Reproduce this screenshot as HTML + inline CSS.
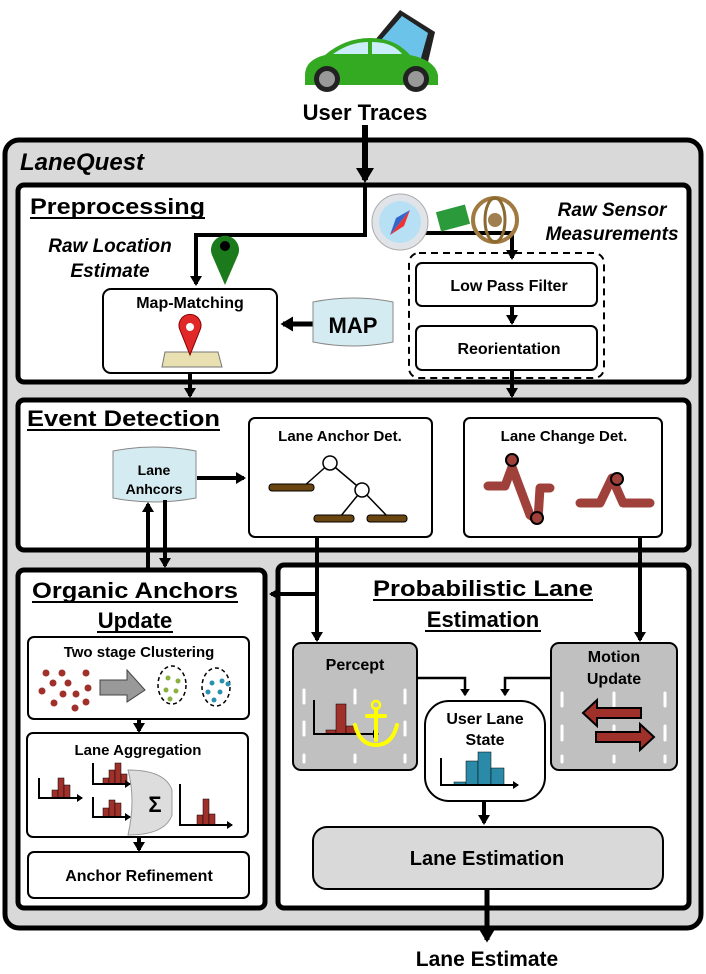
<!DOCTYPE html>
<html><head><meta charset="utf-8"><style>
html,body{margin:0;padding:0;background:#fff}
svg{display:block}
text{font-family:"Liberation Sans",sans-serif;font-weight:bold;fill:#000}
.i{font-style:italic}
</style></head><body>
<svg width="706" height="974" viewBox="0 0 706 974" xmlns="http://www.w3.org/2000/svg">
<defs>
<marker id="a" markerWidth="4" markerHeight="4" refX="2.5" refY="2" orient="auto" markerUnits="strokeWidth"><path d="M0,0 L3,2 L0,4 z" fill="#000"/></marker>
<marker id="b" markerWidth="3" markerHeight="3" refX="2" refY="1.5" orient="auto" markerUnits="strokeWidth"><path d="M0,0 L2.5,1.5 L0,3 z" fill="#000"/></marker>
</defs>
<!-- car -->
<g>
<path d="M375,40 L400,10 L435,32 L428,62 L395,65 z" fill="#222"/>
<path d="M381,40 L402,16 L428,33 L421,58 L398,60 z" fill="#6cc3ea"/>
<path d="M305,75 Q305,60 325,55 Q345,38 370,38 Q395,38 410,55 Q435,60 438,75 L438,85 L305,85 z" fill="#33aa22"/>
<path d="M333,54 Q350,42 368,42 L368,54 z M372,42 Q392,42 402,54 L372,54 z" fill="#c9eefa"/>
<circle cx="327" cy="79" r="13" fill="#222"/><circle cx="327" cy="79" r="8" fill="#999"/>
<circle cx="416" cy="79" r="13" fill="#222"/><circle cx="416" cy="79" r="8" fill="#999"/>
</g>
<text x="365" y="120" font-size="22" text-anchor="middle">User Traces</text>
<!-- outer -->
<rect x="5" y="140" width="696" height="788" rx="14" fill="#d9d9d9" stroke="#000" stroke-width="5"/>
<text x="20" y="170" font-size="24" class="i">LaneQuest</text>
<line x1="365" y1="125" x2="365" y2="180" stroke="#000" stroke-width="6" marker-end="url(#b)"/>
<!-- Preprocessing -->
<rect x="18" y="185" width="671" height="197" rx="6" fill="#fff" stroke="#000" stroke-width="5"/>
<text x="30" y="214" font-size="22" textLength="175" lengthAdjust="spacingAndGlyphs">Preprocessing</text>
<line x1="30" y1="218" x2="205" y2="218" stroke="#000" stroke-width="2"/>
<polyline points="365,183 365,235 196,235 196,284" fill="none" stroke="#000" stroke-width="4" marker-end="url(#b)"/>
<path d="M225,285 L212,255 A14,14 0 1 1 238,255 z" fill="#1b7a1b"/>
<circle cx="225" cy="246" r="5" fill="#000"/>
<text x="110" y="252" font-size="19" text-anchor="middle" class="i">Raw Location</text>
<text x="110" y="277" font-size="19" text-anchor="middle" class="i">Estimate</text>
<rect x="103" y="289" width="174" height="84" rx="8" fill="#fff" stroke="#000" stroke-width="2"/>
<text x="190" y="308" font-size="16" text-anchor="middle">Map-Matching</text>
<path d="M165,352 L218,352 L222,367 L162,367 z" fill="#e8e0b0" stroke="#777"/>
<path d="M190,355 L180,330 A11,11 0 1 1 200,330 z" fill="#e02828" stroke="#800" />
<circle cx="190" cy="327" r="4" fill="#fff"/>
<line x1="314" y1="324" x2="283" y2="324" stroke="#000" stroke-width="5" marker-end="url(#b)"/>
<path d="M313,302 Q353,294 393,302 L393,342 Q353,350 313,342 z" fill="#d4ebf2" stroke="#888"/>
<text x="353" y="333" font-size="22" text-anchor="middle">MAP</text>
<!-- sensors -->
<polyline points="420,233 512,233 512,258" fill="none" stroke="#000" stroke-width="4" marker-end="url(#b)"/>
<circle cx="400" cy="222" r="28" fill="#e0e4e8" stroke="#aaa"/>
<circle cx="400" cy="222" r="21" fill="#b8e0f5"/>
<path d="M390,235 L410,210 L404,226 z" fill="#e33"/><path d="M390,235 L396,218 L410,210 z" fill="#36c"/>
<rect x="438" y="208" width="30" height="20" fill="#2a9a3a" transform="rotate(-15 453 218)"/>
<circle cx="495" cy="220" r="22" fill="none" stroke="#a07a40" stroke-width="4"/>
<ellipse cx="495" cy="220" rx="10" ry="22" fill="none" stroke="#8a6a30" stroke-width="3"/>
<circle cx="495" cy="220" r="7" fill="#a08050"/>
<text x="612" y="216" font-size="19" text-anchor="middle" class="i">Raw Sensor</text>
<text x="612" y="240" font-size="19" text-anchor="middle" class="i">Measurements</text>
<rect x="409" y="253" width="195" height="125" rx="10" fill="none" stroke="#000" stroke-width="2" stroke-dasharray="7,5"/>
<rect x="416" y="263" width="181" height="43" rx="6" fill="#fff" stroke="#000" stroke-width="2"/>
<text x="509" y="291" font-size="16" text-anchor="middle">Low Pass Filter</text>
<line x1="512" y1="306" x2="512" y2="323" stroke="#000" stroke-width="4" marker-end="url(#b)"/>
<rect x="416" y="326" width="181" height="44" rx="6" fill="#fff" stroke="#000" stroke-width="2"/>
<text x="509" y="354" font-size="16" text-anchor="middle">Reorientation</text>
<line x1="190" y1="373" x2="190" y2="396" stroke="#000" stroke-width="4" marker-end="url(#b)"/>
<line x1="512" y1="370" x2="512" y2="396" stroke="#000" stroke-width="4" marker-end="url(#b)"/>
<!-- Event detection -->
<rect x="18" y="400" width="671" height="150" rx="6" fill="#fff" stroke="#000" stroke-width="5"/>
<text x="27" y="426" font-size="22" textLength="193" lengthAdjust="spacingAndGlyphs">Event Detection</text>
<line x1="27" y1="430" x2="220" y2="430" stroke="#000" stroke-width="2"/>
<path d="M113,451 Q154,443 196,451 L196,498 Q154,506 113,498 z" fill="#d4ebf2" stroke="#888"/>
<text x="154" y="475" font-size="14" text-anchor="middle">Lane</text>
<text x="154" y="494" font-size="14" text-anchor="middle">Anhcors</text>
<line x1="197" y1="478" x2="244" y2="478" stroke="#000" stroke-width="4" marker-end="url(#b)"/>
<rect x="249" y="418" width="183" height="119" rx="6" fill="#fff" stroke="#000" stroke-width="2"/>
<text x="340" y="441" font-size="15" text-anchor="middle">Lane Anchor Det.</text>
<g stroke="#000" stroke-width="1.5"><line x1="330" y1="463" x2="303" y2="487"/><line x1="330" y1="463" x2="362" y2="490"/><line x1="362" y1="490" x2="340" y2="517"/><line x1="362" y1="490" x2="388" y2="517"/></g>
<circle cx="330" cy="463" r="7" fill="#fff" stroke="#000" stroke-width="1.5"/>
<circle cx="362" cy="490" r="7" fill="#fff" stroke="#000" stroke-width="1.5"/>
<g stroke="#000" stroke-width="1" fill="#6b4510"><rect x="269" y="484" width="45" height="7" rx="3"/><rect x="314" y="515" width="40" height="7" rx="3"/><rect x="367" y="515" width="40" height="7" rx="3"/></g>
<rect x="464" y="418" width="198" height="119" rx="6" fill="#fff" stroke="#000" stroke-width="2"/>
<text x="564" y="441" font-size="15" text-anchor="middle">Lane Change Det.</text>
<path d="M488,486 L505,486 L512,467 L530,515 L538,520 L540,488 L550,488" fill="none" stroke="#a0403a" stroke-width="9" stroke-linejoin="round" stroke-linecap="round"/>
<path d="M580,503 L600,503 L612,478 L623,503 L650,503" fill="none" stroke="#a0403a" stroke-width="9" stroke-linejoin="round" stroke-linecap="round"/>
<g fill="#a0403a" stroke="#000" stroke-width="2"><circle cx="512" cy="460" r="6"/><circle cx="537" cy="518" r="6"/><circle cx="617" cy="479" r="6"/></g>
<!-- connectors between -->
<line x1="148" y1="568" x2="148" y2="504" stroke="#000" stroke-width="4" marker-end="url(#b)"/>
<line x1="165" y1="500" x2="165" y2="566" stroke="#000" stroke-width="4" marker-end="url(#b)"/>
<!-- Organic anchors -->
<rect x="18" y="570" width="247" height="338" rx="6" fill="#fff" stroke="#000" stroke-width="5"/>
<text x="135" y="598" font-size="22" text-anchor="middle" textLength="206" lengthAdjust="spacingAndGlyphs">Organic Anchors</text>
<line x1="32" y1="602" x2="238" y2="602" stroke="#000" stroke-width="2"/>
<text x="135" y="628" font-size="22" text-anchor="middle">Update</text>
<line x1="97" y1="632" x2="173" y2="632" stroke="#000" stroke-width="2"/>
<rect x="28" y="637" width="221" height="82" rx="6" fill="#fff" stroke="#000" stroke-width="2"/>
<text x="139" y="657" font-size="15" text-anchor="middle">Two stage Clustering</text>
<g fill="#a0302a"><circle cx="46" cy="673" r="3.5"/><circle cx="62" cy="673" r="3.5"/><circle cx="86" cy="673" r="3.5"/><circle cx="53" cy="683" r="3.5"/><circle cx="68" cy="683" r="3.5"/><circle cx="42" cy="691" r="3.5"/><circle cx="63" cy="694" r="3.5"/><circle cx="76" cy="694" r="3.5"/><circle cx="88" cy="688" r="3.5"/><circle cx="54" cy="703" r="3.5"/><circle cx="86" cy="702" r="3.5"/><circle cx="75" cy="708" r="3.5"/></g>
<path d="M100,680 L127,680 L127,670 L145,690 L127,702 L127,695 L100,695 z" fill="#999" stroke="#444"/>
<ellipse cx="172" cy="685" rx="14" ry="19" fill="none" stroke="#000" stroke-dasharray="4,3" stroke-width="1.5"/>
<ellipse cx="216" cy="687" rx="14" ry="19" fill="none" stroke="#000" stroke-dasharray="4,3" stroke-width="1.5"/>
<g fill="#8ab040"><circle cx="168" cy="678" r="2.5"/><circle cx="178" cy="681" r="2.5"/><circle cx="166" cy="690" r="2.5"/><circle cx="176" cy="691" r="2.5"/><circle cx="170" cy="699" r="2.5"/></g>
<g fill="#2a90b0"><circle cx="212" cy="683" r="2.5"/><circle cx="222" cy="681" r="2.5"/><circle cx="208" cy="692" r="2.5"/><circle cx="220" cy="692" r="2.5"/><circle cx="228" cy="684" r="2.5"/><circle cx="214" cy="700" r="2.5"/></g>
<line x1="139" y1="719" x2="139" y2="731" stroke="#000" stroke-width="4" marker-end="url(#b)"/>
<rect x="27" y="733" width="221" height="104" rx="6" fill="#fff" stroke="#000" stroke-width="2"/>
<text x="138" y="755" font-size="15" text-anchor="middle">Lane Aggregation</text>
<path d="M128,770 Q165,770 172,790 L172,815 Q165,835 128,835 Q136,800 128,770 z" fill="#ddd" stroke="#999"/>
<text x="155" y="812" font-size="22" text-anchor="middle" font-weight="normal" fill="#333">Σ</text>
<g fill="#a0302a" stroke="#000" stroke-width="0.5">
<rect x="52" y="790" width="6" height="8"/><rect x="58" y="778" width="6" height="20"/><rect x="64" y="785" width="6" height="13"/>
<rect x="103" y="778" width="6" height="6"/><rect x="109" y="770" width="6" height="14"/><rect x="115" y="763" width="6" height="21"/><rect x="121" y="774" width="6" height="10"/>
<rect x="103" y="808" width="6" height="9"/><rect x="109" y="800" width="6" height="17"/><rect x="115" y="803" width="6" height="14"/>
<rect x="197" y="815" width="6" height="10"/><rect x="203" y="799" width="6" height="26"/><rect x="209" y="814" width="6" height="11"/>
</g>
<g fill="none" stroke="#000" stroke-width="2"><polyline points="39,778 39,798 82,798" marker-end="url(#a)"/><polyline points="93,763 93,784 130,784" marker-end="url(#a)"/><polyline points="93,797 93,817 130,817" marker-end="url(#a)"/><polyline points="180,784 180,825 232,825" marker-end="url(#a)"/></g>
<line x1="139" y1="837" x2="139" y2="850" stroke="#000" stroke-width="4" marker-end="url(#b)"/>
<rect x="28" y="852" width="221" height="46" rx="6" fill="#fff" stroke="#000" stroke-width="2"/>
<text x="139" y="881" font-size="16" text-anchor="middle">Anchor Refinement</text>
<!-- PLE -->
<rect x="278" y="565" width="411" height="343" rx="6" fill="#fff" stroke="#000" stroke-width="5"/>
<polyline points="317,537 317,640" fill="none" stroke="#000" stroke-width="4" marker-end="url(#b)"/>
<line x1="317" y1="594" x2="271" y2="594" stroke="#000" stroke-width="4" marker-end="url(#b)"/>
<line x1="640" y1="537" x2="640" y2="640" stroke="#000" stroke-width="4" marker-end="url(#b)"/>
<text x="483" y="596" font-size="22" text-anchor="middle" textLength="220" lengthAdjust="spacingAndGlyphs">Probabilistic Lane</text>
<line x1="373" y1="600" x2="593" y2="600" stroke="#000" stroke-width="2"/>
<text x="483" y="627" font-size="22" text-anchor="middle">Estimation</text>
<line x1="425" y1="631" x2="541" y2="631" stroke="#000" stroke-width="2"/>
<rect x="293" y="643" width="124" height="127" rx="8" fill="#c0c0c0" stroke="#000" stroke-width="2"/>
<text x="355" y="670" font-size="16" text-anchor="middle">Percept</text>
<g stroke="#fff" stroke-width="3" stroke-linecap="round"><line x1="304" y1="690" x2="304" y2="703"/><line x1="304" y1="722" x2="304" y2="735"/><line x1="304" y1="755" x2="304" y2="762"/><line x1="355" y1="690" x2="355" y2="703"/><line x1="355" y1="755" x2="355" y2="762"/><line x1="405" y1="690" x2="405" y2="703"/><line x1="405" y1="722" x2="405" y2="735"/><line x1="405" y1="755" x2="405" y2="762"/></g>
<g fill="#a0302a" stroke="#000" stroke-width="0.5"><rect x="326" y="730" width="10" height="4"/><rect x="336" y="704" width="10" height="30"/><rect x="346" y="726" width="10" height="8"/></g>
<polyline points="314,700 314,734 378,734" fill="none" stroke="#000" stroke-width="2" marker-end="url(#a)"/>
<g fill="none" stroke="#ff0" stroke-width="4" stroke-linecap="round"><circle cx="376" cy="705" r="4" stroke-width="2.5"/><line x1="376" y1="709" x2="376" y2="740"/><line x1="367" y1="716" x2="385" y2="716"/><path d="M355,725 Q360,745 376,745 Q392,745 397,725"/></g>
<rect x="551" y="643" width="126" height="127" rx="8" fill="#c0c0c0" stroke="#000" stroke-width="2"/>
<text x="614" y="662" font-size="16" text-anchor="middle">Motion</text>
<text x="614" y="684" font-size="16" text-anchor="middle">Update</text>
<g stroke="#fff" stroke-width="3" stroke-linecap="round"><line x1="562" y1="693" x2="562" y2="706"/><line x1="562" y1="726" x2="562" y2="740"/><line x1="562" y1="756" x2="562" y2="762"/><line x1="614" y1="693" x2="614" y2="706"/><line x1="614" y1="726" x2="614" y2="740"/><line x1="614" y1="756" x2="614" y2="762"/><line x1="665" y1="693" x2="665" y2="706"/><line x1="665" y1="726" x2="665" y2="740"/><line x1="665" y1="756" x2="665" y2="762"/></g>
<path d="M583,713 L597,700 L597,708 L641,708 L641,718 L597,718 L597,726 z" fill="#a0302a" stroke="#000" stroke-width="2"/>
<path d="M654,737 L640,724 L640,732 L596,732 L596,742 L640,742 L640,750 z" fill="#a0302a" stroke="#000" stroke-width="2"/>
<polyline points="417,678 465,678 465,695" fill="none" stroke="#000" stroke-width="2.5" marker-end="url(#a)"/>
<polyline points="551,678 505,678 505,695" fill="none" stroke="#000" stroke-width="2.5" marker-end="url(#a)"/>
<rect x="425" y="701" width="120" height="100" rx="24" fill="#fff" stroke="#000" stroke-width="2"/>
<text x="485" y="724" font-size="16" text-anchor="middle">User Lane</text>
<text x="485" y="745" font-size="16" text-anchor="middle">State</text>
<g fill="#2a8aa8" stroke="#000" stroke-width="0.5"><rect x="454" y="782" width="12" height="3"/><rect x="466" y="761" width="12" height="24"/><rect x="478" y="752" width="13" height="33"/><rect x="491" y="768" width="13" height="17"/></g>
<polyline points="441,758 441,785 518,785" fill="none" stroke="#000" stroke-width="2" marker-end="url(#a)"/>
<line x1="484" y1="801" x2="484" y2="823" stroke="#000" stroke-width="4" marker-end="url(#b)"/>
<rect x="313" y="827" width="350" height="62" rx="14" fill="#d9d9d9" stroke="#000" stroke-width="2"/>
<text x="487" y="865" font-size="20" text-anchor="middle">Lane Estimation</text>
<line x1="487" y1="889" x2="487" y2="940" stroke="#000" stroke-width="5" marker-end="url(#b)"/>
<text x="487" y="966" font-size="21" text-anchor="middle">Lane Estimate</text>
</svg>
</body></html>
